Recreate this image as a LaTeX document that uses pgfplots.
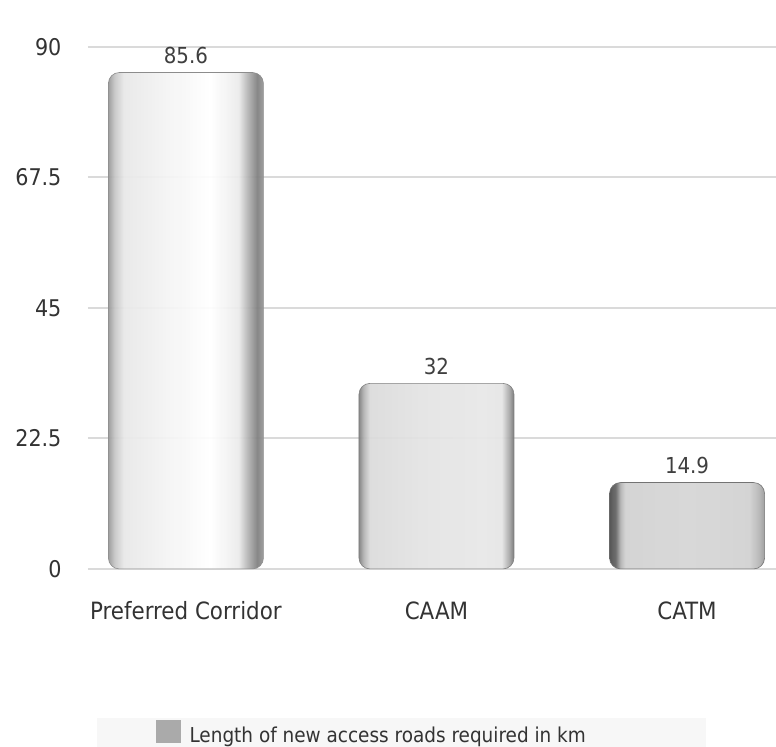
\documentclass[border=0pt]{standalone}
\usepackage{pgfplots}
\pgfplotsset{compat=1.18}
\usepackage{fontspec}
\setmainfont{DejaVu Sans Condensed}

\definecolor{txt}{HTML}{333333}
\definecolor{gridc}{HTML}{DADADA}
\definecolor{legbg}{HTML}{F7F7F7}
\definecolor{legsq}{HTML}{AAAAAA}

% cylinder-like horizontal shadings, one per bar
\pgfdeclarehorizontalshading{barA}{100bp}{
  color(0bp)=(black!40);
  color(25bp)=(black!40);
  color(27bp)=(black!22);
  color(30bp)=(black!9);
  color(45bp)=(black!4);
  color(58bp)=(black!0);
  color(67bp)=(black!8);
  color(70bp)=(black!30);
  color(73bp)=(black!50);
  color(75bp)=(black!40);
  color(100bp)=(black!40)}
\pgfdeclarehorizontalshading{barB}{100bp}{
  color(0bp)=(black!50);
  color(25bp)=(black!50);
  color(26.5bp)=(black!30);
  color(28.5bp)=(black!14);
  color(45bp)=(black!11);
  color(65bp)=(black!9);
  color(71bp)=(black!10);
  color(73.5bp)=(black!35);
  color(75bp)=(black!55);
  color(100bp)=(black!55)}
\pgfdeclarehorizontalshading{barC}{100bp}{
  color(0bp)=(black!70);
  color(25bp)=(black!70);
  color(27bp)=(black!60);
  color(28.5bp)=(black!30);
  color(30bp)=(black!18);
  color(50bp)=(black!16);
  color(70bp)=(black!18);
  color(73bp)=(black!28);
  color(75bp)=(black!40);
  color(100bp)=(black!40)}

\begin{document}
\begin{tikzpicture}
\begin{axis}[
  scale only axis,
  width=688pt, height=595pt,
  xmin=-0.391, xmax=2.355,
  ymin=-4.5, ymax=98.1,
  axis line style={draw=none},
  major tick length=0pt,
  ymajorgrids,
  grid style={gridc, line width=2pt},
  ytick={0,22.5,45,67.5,90},
  xtick={0,1,2},
  xticklabels={Preferred Corridor, CAAM, CATM},
  /pgf/number format/assume math mode=true,
  tick label style={font=\fontsize{23}{26}\selectfont, text=txt},
  yticklabel style={xshift=-23pt},
  xticklabel style={font=\fontsize{23.8}{26}\selectfont, yshift=-3pt},
  ybar,
  bar width=155pt,
  bar shift=0pt,
  nodes near coords,
  nodes near coords style={font=\fontsize{22}{26}\selectfont, text=txt, yshift=5pt},
  legend style={
    at={(axis description cs:0.0131,-0.232)}, anchor=west,
    draw=none, fill=legbg, inner xsep=0pt, inner ysep=1.5pt,
    font=\fontsize{20.5}{24}\selectfont, text=txt},
  legend cell align=left,
  clip=false,
]
\addlegendimage{legend image code/.code={
    \path (-59pt,0pt) (31pt,0pt);
    \fill[legsq] (0pt,-6.5pt) rectangle (24pt,15.5pt);}}
\addlegendentry{\makebox[514pt][l]{Length of new access roads required in km}}

\addplot[forget plot, draw=black!45, line width=0.6pt, shading=barA,
  rounded corners=11pt, fill opacity=0.94]
  coordinates {(0,85.6)};
\addplot[forget plot, draw=black!50, line width=0.6pt, shading=barB,
  rounded corners=11pt, fill opacity=0.94]
  coordinates {(1,32)};
\addplot[forget plot, draw=black!55, line width=0.6pt, shading=barC,
  rounded corners=11pt, fill opacity=0.94]
  coordinates {(2,14.9)};

\coordinate (bbl) at (axis cs:-0.742,-30.7);
\coordinate (btr) at (axis cs:2.355,98.1);
\end{axis}
\pgfresetboundingbox
\path (bbl) rectangle (btr);
\end{tikzpicture}
\end{document}
